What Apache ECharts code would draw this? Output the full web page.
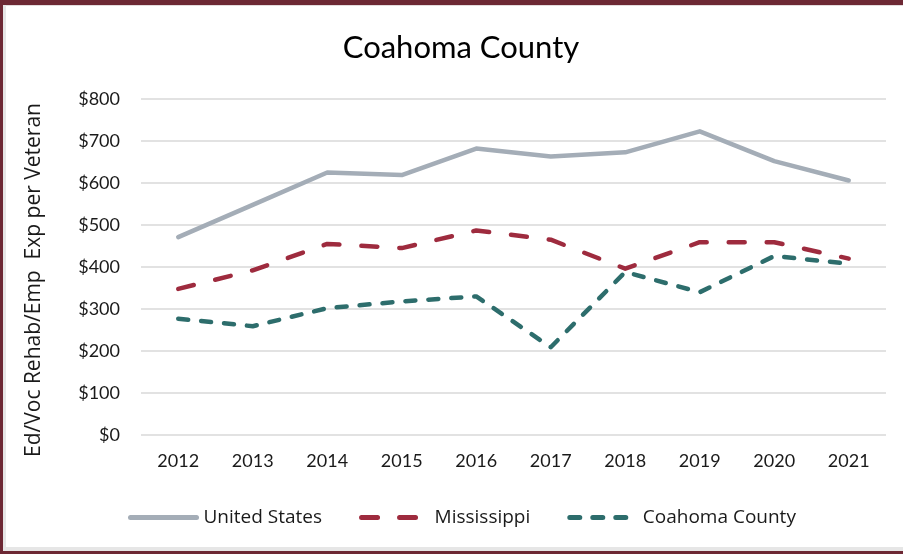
<!DOCTYPE html>
<html>
<head>
<meta charset="utf-8">
<script src="https://cdn.jsdelivr.net/npm/echarts@6/dist/echarts.min.js"></script>
<style>
  html, body { margin: 0; padding: 0; background: #ffffff; }
  #chart { position: absolute; left: 0; top: 0; width: 903px; height: 554px; }
  .b { position: absolute; pointer-events: none; }
</style>
</head>
<body>
<div id="chart"></div>
<div class="b" style="left:0;top:0;width:903px;height:5px;background:#6d2834;"></div>
<div class="b" style="left:0;top:5px;width:903px;height:1px;background:#e3dcdd;"></div>
<div class="b" style="left:0;top:0;width:3px;height:554px;background:#6d2834;"></div>
<div class="b" style="left:3px;top:5px;width:3px;height:546px;background:#e6e6e6;"></div>
<div class="b" style="left:0;top:551px;width:903px;height:3px;background:#6d2834;"></div>
<div class="b" style="left:3px;top:547px;width:900px;height:4px;background:#e6e6e6;"></div>
<script>
const years = ['2012','2013','2014','2015','2016','2017','2018','2019','2020','2021'];
const unitedStates = [471, 548, 625, 619, 682, 663, 673, 723, 652, 606];
const mississippi = [348, 392, 455, 445, 487, 465, 396, 459, 459, 420];
const coahomaCounty = [277, 259, 302, 318, 330, 209, 388, 340, 426, 408];
const seriesNames = ['United States', 'Mississippi', 'Coahoma County'];
const chartTitle = 'Coahoma County';
const yAxisTitle = 'Ed/Voc Rehab/Emp  Exp per Veteran';

const font = 'Lato, "Open Sans", sans-serif';
const font2 = '"Open Sans", Lato, sans-serif';
const chart = echarts.init(document.getElementById('chart'), null, { renderer: 'canvas' });
chart.setOption({
  animation: false,
  backgroundColor: '#ffffff',
  title: {
    text: chartTitle,
    left: 456,
    textAlign: 'center',
    top: 27,
    textStyle: { fontFamily: font, fontSize: 31, fontWeight: 'normal', color: '#000000' }
  },
  grid: { left: 141, right: 17, top: 99, bottom: 119, containLabel: false },
  legend: {
    left: 123,
    top: 503,
    itemWidth: 66,
    itemHeight: 14,
    itemGap: 37,
    itemStyle: { opacity: 0 },
    lineStyle: { width: 5, type: 'inherit' },
    textStyle: { fontFamily: font2, fontSize: 19, color: '#1a1a1a', padding: [0, 0, 0, 2] },
    data: seriesNames
  },
  xAxis: {
    type: 'category',
    data: years,
    boundaryGap: true,
    axisLine: { show: false },
    axisTick: { show: false },
    axisLabel: { fontFamily: font, fontSize: 18, color: '#1a1a1a', margin: 17 }
  },
  yAxis: {
    type: 'value',
    min: 0,
    max: 800,
    interval: 100,
    name: yAxisTitle,
    nameLocation: 'middle',
    nameGap: 96,
    nameRotate: 90,
    nameTextStyle: { fontFamily: font2, fontSize: 21, color: '#1a1a1a', padding: [0, 26, 0, 0] },
    axisLine: { show: false },
    axisTick: { show: false },
    axisLabel: { fontFamily: font, fontSize: 18, color: '#1a1a1a', margin: 21, formatter: v => '$' + v },
    splitLine: { lineStyle: { color: '#d9d9d9', width: 1.5 } }
  },
  series: [
    {
      name: seriesNames[0], type: 'line', data: unitedStates, symbol: 'none',
      color: '#a4adb7',
      lineStyle: { color: '#a4adb7', width: 4.5, cap: 'round', join: 'round' }
    },
    {
      name: seriesNames[1], type: 'line', data: mississippi, symbol: 'none',
      color: '#9e2b3e',
      lineStyle: { color: '#9e2b3e', width: 4.5, type: [16, 22], cap: 'round', join: 'round' }
    },
    {
      name: seriesNames[2], type: 'line', data: coahomaCounty, symbol: 'none',
      color: '#2d6d6c',
      lineStyle: { color: '#2d6d6c', width: 4.5, type: [10, 13], cap: 'round', join: 'round' }
    }
  ]
});
</script>
</body>
</html>
